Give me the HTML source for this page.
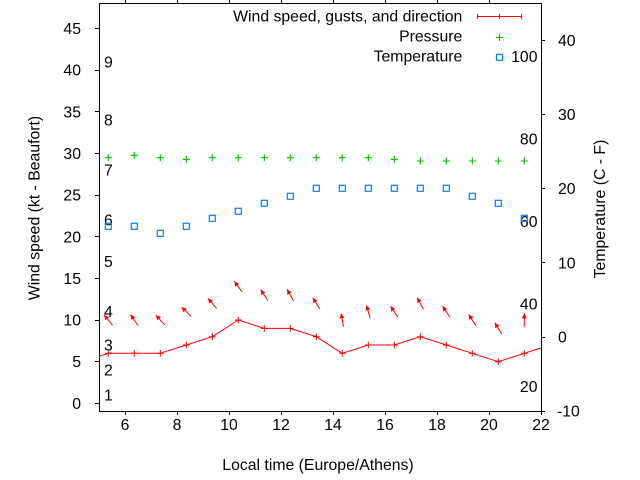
<!DOCTYPE html>
<html><head><meta charset="utf-8"><style>
html,body{margin:0;padding:0;background:#fff;}
svg{display:block;}
text{font-family:"Liberation Sans",Arial,sans-serif;font-size:15.8px;fill:#000;}
</style></head><body>
<svg width="640" height="480" viewBox="0 0 640 480" xmlns="http://www.w3.org/2000/svg">
<defs>
<clipPath id="pc"><rect x="99.5" y="3.5" width="442" height="408"/></clipPath>
<marker id="ah" markerUnits="userSpaceOnUse" markerWidth="8" markerHeight="8" refX="5" refY="2.5" orient="auto"><path d="M0,0 L5,2.5 L0,5 z" fill="#ff0000"/></marker>
</defs>
<rect width="640" height="480" fill="#fff"/>
<!-- border -->
<rect x="99.5" y="3.5" width="442" height="408" fill="none" stroke="#000" stroke-width="1"/>
<!-- ticks -->
<g stroke="#000" stroke-width="1">
<path d="M95,403.5H99 M95,361.5H99 M95,320.5H99 M95,278.5H99 M95,236.5H99 M95,195.5H99 M95,153.5H99 M95,111.5H99 M95,70.5H99 M95,28.5H99"/>
<path d="M125.5,411V415 M177.5,411V415 M229.5,411V415 M281.5,411V415 M333.5,411V415 M385.5,411V415 M437.5,411V415 M489.5,411V415 M541.5,411V415"/>
<path d="M125.5,0V3 M177.5,0V3 M229.5,0V3 M281.5,0V3 M333.5,0V3 M385.5,0V3 M437.5,0V3 M489.5,0V3"/>
<path d="M541,411.5H545 M541,337.5H545 M541,262.5H545 M541,188.5H545 M541,114.5H545 M541,40.5H545"/>
</g>
<!-- left tick labels -->
<g text-anchor="end">
<text x="81" y="408.8">0</text>
<text x="81" y="367.2">5</text>
<text x="81" y="325.5">10</text>
<text x="81" y="283.9">15</text>
<text x="81" y="242.3">20</text>
<text x="81" y="200.6">25</text>
<text x="81" y="159">30</text>
<text x="81" y="117.4">35</text>
<text x="81" y="75.7">40</text>
<text x="81" y="34.1">45</text>
</g>
<!-- bottom labels -->
<g text-anchor="middle">
<text x="125" y="430">6</text>
<text x="177" y="430">8</text>
<text x="229" y="430">10</text>
<text x="281" y="430">12</text>
<text x="333" y="430">14</text>
<text x="385" y="430">16</text>
<text x="437" y="430">18</text>
<text x="489" y="430">20</text>
<text x="541" y="430">22</text>
<text x="318" y="470">Local time (Europe/Athens)</text>
</g>
<!-- right tick labels -->
<g>
<text x="557" y="416.7">-10</text>
<text x="558" y="342.5">0</text>
<text x="558" y="268.3">10</text>
<text x="558" y="194.1">20</text>
<text x="558" y="120">30</text>
<text x="558" y="45.8">40</text>
</g>
<!-- Fahrenheit labels -->
<g text-anchor="end">
<text x="537.5" y="392">20</text>
<text x="537.5" y="309.5">40</text>
<text x="537.5" y="227.1">60</text>
<text x="537.5" y="144.7">80</text>
<text x="537.5" y="62.2">100</text>
</g>
<!-- Beaufort labels -->
<g>
<text x="104" y="400.5">1</text>
<text x="104" y="375.5">2</text>
<text x="104" y="350.5">3</text>
<text x="104" y="317.2">4</text>
<text x="104" y="267.2">5</text>
<text x="104" y="225.6">6</text>
<text x="104" y="175.6">7</text>
<text x="104" y="125.7">8</text>
<text x="104" y="67.4">9</text>
</g>
<!-- axis titles -->
<text text-anchor="middle" transform="translate(39.5,208) rotate(-90)">Wind speed (kt - Beaufort)</text>
<text text-anchor="middle" transform="translate(605,209) rotate(-90)">Temperature (C - F)</text>
<!-- legend -->
<g text-anchor="end">
<text x="462.3" y="21.7">Wind speed, gusts, and direction</text>
<text x="462.3" y="41.7">Pressure</text>
<text x="462.3" y="61.7">Temperature</text>
</g>
<g stroke="#ff0000" stroke-width="1" fill="none">
<path d="M477.5,16.5H521.5 M477.5,14V19 M521.5,14V19 M499.5,14V19"/>
</g>
<path d="M496,37.5H503 M499.5,34V41" stroke="#00c000" stroke-width="1.1" fill="none"/>
<rect x="496.5" y="54.3" width="6" height="6" fill="none" stroke="#0080ff" stroke-width="1.2"/>
<!-- plot data -->
<g clip-path="url(#pc)">
<!-- wind line -->
<polyline fill="none" stroke="#ff0000" stroke-width="1" points="82.3,361.7 108.3,353.3 134.3,353.3 160.3,353.3 186.3,345 212.3,336.7 238.3,320 264.3,328.4 290.3,328.4 316.3,336.7 342.3,353.3 368.3,345 394.3,345 420.3,336.7 446.3,345 472.3,353.3 498.3,361.7 524.3,353.3 550.3,345"/>
<path stroke="#ff0000" stroke-width="1" fill="none" d="
M105,353.3H111.6 M108.3,350V356.6
M131,353.3H137.6 M134.3,350V356.6
M157,353.3H163.6 M160.3,350V356.6
M183,345H189.6 M186.3,341.7V348.3
M209,336.7H215.6 M212.3,333.4V340
M235,320H241.6 M238.3,316.7V323.3
M261,328.4H267.6 M264.3,325.1V331.7
M287,328.4H293.6 M290.3,325.1V331.7
M313,336.7H319.6 M316.3,333.4V340
M339,353.3H345.6 M342.3,350V356.6
M365,345H371.6 M368.3,341.7V348.3
M391,345H397.6 M394.3,341.7V348.3
M417,336.7H423.6 M420.3,333.4V340
M443,345H449.6 M446.3,341.7V348.3
M469,353.3H475.6 M472.3,350V356.6
M495,361.7H501.6 M498.3,358.4V365
M521,353.3H527.6 M524.3,350V356.6"/>
<!-- arrows -->
<g stroke="#ff0000" stroke-width="1" fill="none" marker-end="url(#ah)">
<line x1="112.56" y1="325.11" x2="104.04" y2="314.89"/>
<line x1="138.03" y1="325.51" x2="130.57" y2="314.49"/>
<line x1="164.71" y1="324.98" x2="155.89" y2="315.02"/>
<line x1="191.1" y1="316.3" x2="181.5" y2="307.1"/>
<line x1="216.61" y1="308.46" x2="207.99" y2="298.34"/>
<line x1="242.23" y1="292.06" x2="234.37" y2="281.34"/>
<line x1="268.03" y1="300.61" x2="260.57" y2="289.59"/>
<line x1="293.56" y1="300.9" x2="287.04" y2="289.3"/>
<line x1="319.86" y1="309.02" x2="312.74" y2="297.78"/>
<line x1="343.5" y1="326.54" x2="341.1" y2="313.46"/>
<line x1="370.13" y1="318.09" x2="366.47" y2="305.31"/>
<line x1="397.99" y1="317.23" x2="390.61" y2="306.17"/>
<line x1="423.56" y1="309.2" x2="417.04" y2="297.6"/>
<line x1="449.99" y1="317.23" x2="442.61" y2="306.17"/>
<line x1="475.91" y1="325.58" x2="468.69" y2="314.42"/>
<line x1="501.82" y1="334.04" x2="494.78" y2="322.76"/>
<line x1="524.3" y1="326.65" x2="524.3" y2="313.35"/>
</g>
<!-- pressure -->
<path stroke="#00c000" stroke-width="1.1" fill="none" d="
M104.8,157.7H111.8 M108.3,154.2V161.2
M130.8,155.3H137.8 M134.3,151.8V158.8
M156.8,157.7H163.8 M160.3,154.2V161.2
M182.8,159.3H189.8 M186.3,155.8V162.8
M208.8,157.7H215.8 M212.3,154.2V161.2
M234.8,157.7H241.8 M238.3,154.2V161.2
M260.8,157.7H267.8 M264.3,154.2V161.2
M286.8,157.7H293.8 M290.3,154.2V161.2
M312.8,157.7H319.8 M316.3,154.2V161.2
M338.8,157.7H345.8 M342.3,154.2V161.2
M364.8,157.7H371.8 M368.3,154.2V161.2
M390.8,159.3H397.8 M394.3,155.8V162.8
M416.8,161H423.8 M420.3,157.5V164.5
M442.8,161H449.8 M446.3,157.5V164.5
M468.8,161H475.8 M472.3,157.5V164.5
M494.8,161H501.8 M498.3,157.5V164.5
M520.8,161H527.8 M524.3,157.5V164.5"/>
<!-- temperature -->
<g fill="none" stroke="#0080ff" stroke-width="1.2">
<rect x="105.3" y="223.3" width="6" height="6"/>
<rect x="131.3" y="223.3" width="6" height="6"/>
<rect x="157.3" y="230.3" width="6" height="6"/>
<rect x="183.3" y="223.3" width="6" height="6"/>
<rect x="209.3" y="215.3" width="6" height="6"/>
<rect x="235.3" y="208.3" width="6" height="6"/>
<rect x="261.3" y="200.3" width="6" height="6"/>
<rect x="287.3" y="193.3" width="6" height="6"/>
<rect x="313.3" y="185.3" width="6" height="6"/>
<rect x="339.3" y="185.3" width="6" height="6"/>
<rect x="365.3" y="185.3" width="6" height="6"/>
<rect x="391.3" y="185.3" width="6" height="6"/>
<rect x="417.3" y="185.3" width="6" height="6"/>
<rect x="443.3" y="185.3" width="6" height="6"/>
<rect x="469.3" y="193.3" width="6" height="6"/>
<rect x="495.3" y="200.3" width="6" height="6"/>
<rect x="521.3" y="215.3" width="6" height="6"/>
</g>
</g>
</svg>
</body></html>
